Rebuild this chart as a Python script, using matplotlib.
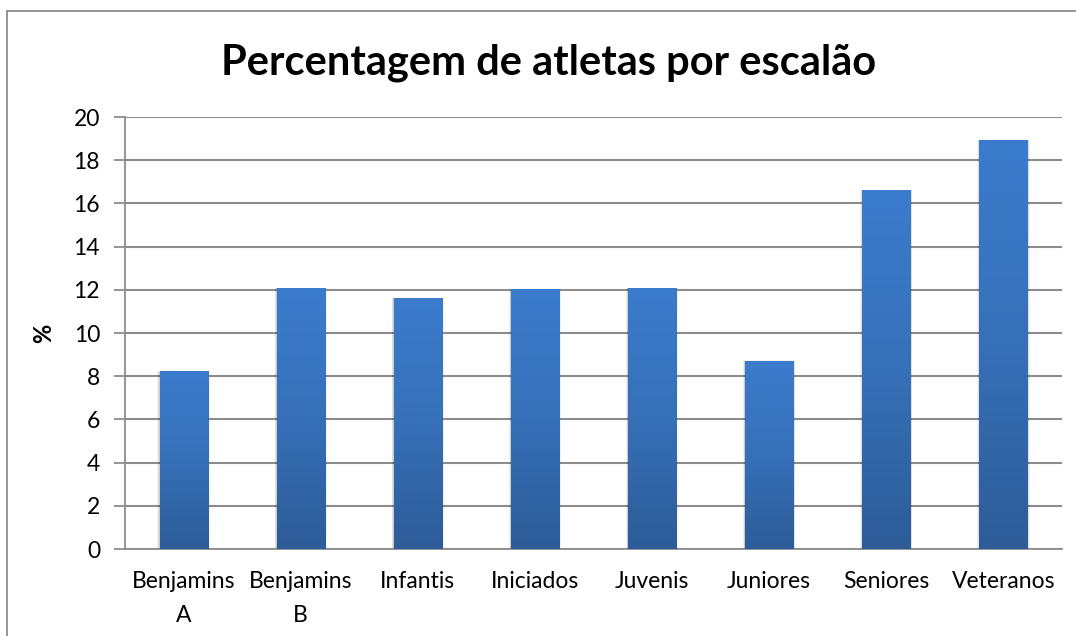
import numpy as np
import matplotlib.pyplot as plt
from matplotlib.patches import Rectangle
from matplotlib.colors import LinearSegmentedColormap

plt.rcParams['font.family'] = ['Lato', 'DejaVu Sans']

escaloes = ['Benjamins\nA', 'Benjamins\nB', 'Infantis', 'Iniciados',
            'Juvenis', 'Juniores', 'Seniores', 'Veteranos']
percentagens = [8.2, 12.05, 11.6, 12.0, 12.05, 8.7, 16.6, 18.9]
yticks = [0, 2, 4, 6, 8, 10, 12, 14, 16, 18, 20]

W, H = 1076, 636
fig = plt.figure(figsize=(W / 100, H / 100), dpi=100)
ax = fig.add_axes([125 / W, 1 - 549 / H, (1062 - 125) / W, (549 - 117) / H])

# moldura do gráfico (estilo Excel)
fig.patches.append(Rectangle((7 / W, -0.1), 1.2, 1 - 11 / H + 0.1,
                             transform=fig.transFigure, fill=False,
                             edgecolor='#8c8c8c', linewidth=1.3))

x = np.arange(len(escaloes))
bars = ax.bar(x, percentagens, width=0.41, color='none', zorder=3)

# gradiente por barra: claro em cima, escuro em baixo
cmap = LinearSegmentedColormap.from_list('azul', ['#2d5c98', '#3670b8', '#3c7ccd'])
grad = np.linspace(0, 1, 256).reshape(-1, 1)
for b in bars:
    x0, w, h = b.get_x(), b.get_width(), b.get_height()
    # sombra suave
    for k, a in zip([0.06, 0.04, 0.02], [0.05, 0.07, 0.09]):
        ax.add_patch(Rectangle((x0 - k * 0.3, 0), w + 2 * k * 0.3, h + k * 0.6,
                               color='black', alpha=a, linewidth=0, zorder=2))
    ax.imshow(grad, extent=(x0, x0 + w, 0, h), origin='lower', cmap=cmap,
              aspect='auto', zorder=3)

ax.set_xlim(-0.5, len(escaloes) - 0.5)
ax.set_ylim(0, 20)
ax.set_yticks(yticks)
ax.set_xticks(x)
ax.set_xticklabels(escaloes, fontsize=16.5, linespacing=1.75)
ax.tick_params(axis='y', labelsize=16.5, length=8, color='#8c8c8c', width=1.3, pad=10)
ax.tick_params(axis='x', length=0, pad=16)
ax.yaxis.grid(True, color='#8c8c8c', linewidth=1.5, zorder=1)
ax.set_axisbelow(True)
for s in ['top', 'right']:
    ax.spines[s].set_visible(False)
for s in ['left', 'bottom']:
    ax.spines[s].set_color('#8c8c8c')
    ax.spines[s].set_linewidth(1.3)

ax.set_ylabel('%', fontsize=17, fontweight='bold')
ax.yaxis.set_label_coords((55 - 125) / (1062 - 125), 0.5)
fig.text(549 / W, 1 - 63 / H, 'Percentagem de atletas por escalão',
         ha='center', va='center', fontsize=30, fontweight='bold')

fig.savefig('out.png', dpi=100)
